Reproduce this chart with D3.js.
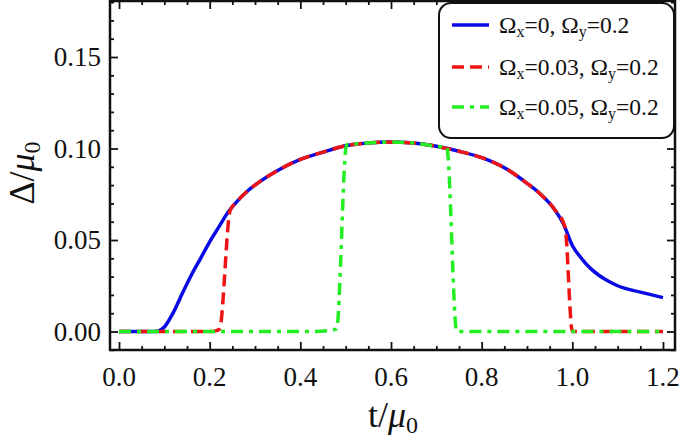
<!DOCTYPE html>
<html>
<head>
<meta charset="utf-8">
<script src="https://cdn.jsdelivr.net/npm/d3@7"></script>
<style>
  body { margin: 0; background: #fff; }
  svg text { font-family: "Liberation Serif", "DejaVu Serif", serif; fill: #111; }
</style>
</head>
<body>
<div id="chart"></div>
<script>
// t/mu0 on x, Delta/mu0 on y.
var blueT = [0, 0.05, 0.08, 0.09, 0.1, 0.12, 0.14, 0.16, 0.18, 0.2, 0.22, 0.24, 0.26, 0.28, 0.3,
             0.35, 0.4, 0.45, 0.5, 0.55, 0.6, 0.65, 0.7, 0.75, 0.8, 0.85, 0.9, 0.93, 0.96, 0.98,
             1.0, 1.02, 1.04, 1.06, 1.08, 1.1, 1.15, 1.2];
var blueV = [0, 0, 0, 0.0006, 0.0025, 0.0105, 0.021, 0.031, 0.040, 0.049, 0.057, 0.065, 0.071, 0.076, 0.080,
             0.088, 0.094, 0.098, 0.1015, 0.103, 0.1035, 0.103, 0.1012, 0.0985, 0.095, 0.0895, 0.081, 0.075, 0.067, 0.059,
             0.047, 0.040, 0.0345, 0.0305, 0.0275, 0.025, 0.0215, 0.0185];

var redT = [0, 0.2, 0.215, 0.222, 0.245, 0.26, 0.28, 0.3, 0.35, 0.4, 0.45, 0.5, 0.55, 0.6, 0.65,
            0.7, 0.75, 0.8, 0.85, 0.9, 0.93, 0.96, 0.984, 1.0, 1.2];
var redV = [0, 0, 0.0005, 0.0015, 0.066, 0.071, 0.076, 0.080, 0.088, 0.094, 0.098, 0.1015, 0.103, 0.1035, 0.103,
            0.1012, 0.0985, 0.095, 0.0895, 0.081, 0.075, 0.067, 0.057, 0, 0];

var greenT = [0, 0.43, 0.47, 0.48, 0.502, 0.55, 0.6, 0.65, 0.7, 0.723, 0.745, 1.2];
var greenV = [0, 0, 0.0008, 0.0015, 0.102, 0.103, 0.1035, 0.103, 0.1012, 0.1006, 0, 0];

var seriesNames = ["blue", "red", "green"];
var legendX = ["0", "0.03", "0.05"];
var legendY = ["0.2", "0.2", "0.2"];

var xTicks = [0, 0.2, 0.4, 0.6, 0.8, 1.0, 1.2];
var yTicks = [0, 0.05, 0.10, 0.15];

var colors = {blue: "#0a0ae6", red: "#ee1414", green: "#22ee22"};
var dashes = {blue: null, red: "12,6", green: "12,6,4,6"};

var W = 685, H = 441;
var pLeft = 110, pRight = 675, pTop = 1, pBottom = 350;

var xScale = d3.scaleLinear().domain([-0.0199, 1.2265]).range([pLeft, pRight]);
var yScale = d3.scaleLinear().domain([-0.0101, 0.1806]).range([pBottom, pTop]);

var svg = d3.select("#chart").append("svg")
    .attr("width", W)
    .attr("height", H);

// curves
var line = d3.line()
    .curve(d3.curveMonotoneX)
    .x(function(d) { return xScale(d[0]); })
    .y(function(d) { return yScale(d[1]); });

function zip(t, v) { return t.map(function(d, i) { return [d, v[i]]; }); }
var series = {blue: zip(blueT, blueV), red: zip(redT, redV), green: zip(greenT, greenV)};

svg.append("g").selectAll("path")
    .data(seriesNames)
    .enter().append("path")
    .attr("d", function(k) { return line(series[k]); })
    .attr("fill", "none")
    .attr("stroke", function(k) { return colors[k]; })
    .attr("stroke-width", 3.5)
    .attr("stroke-dasharray", function(k) { return dashes[k]; })
    .attr("stroke-linejoin", "round");

// frame with inward ticks on all sides
var xMinor = d3.range(0, 1.2001, 0.05);
var yMinor = d3.range(-0.01, 0.1801, 0.01);

function isMajorX(d) { return Math.abs(d / 0.2 - Math.round(d / 0.2)) < 1e-6; }
function isMajorY(d) { return Math.abs(d / 0.05 - Math.round(d / 0.05)) < 1e-6; }

// sign: direction pointing into the plot
function tickStyle(g, major, dir, sign) {
  g.select(".domain").remove();
  g.selectAll(".tick line")
      .attr("stroke", "#111")
      .attr("stroke-width", 1.8)
      .each(function(d) {
        var len = major(d) ? 8 : 4;
        if (dir === "x") d3.select(this).attr("y2", len * sign);
        else d3.select(this).attr("x2", len * sign);
      });
}

svg.append("g").attr("transform", "translate(0," + pBottom + ")")
    .call(d3.axisBottom(xScale).tickValues(xMinor).tickFormat("").tickSizeOuter(0))
    .call(tickStyle, isMajorX, "x", -1);
svg.append("g").attr("transform", "translate(0," + pTop + ")")
    .call(d3.axisTop(xScale).tickValues(xMinor).tickFormat("").tickSizeOuter(0))
    .call(tickStyle, isMajorX, "x", 1);
svg.append("g").attr("transform", "translate(" + pLeft + ",0)")
    .call(d3.axisLeft(yScale).tickValues(yMinor).tickFormat("").tickSizeOuter(0))
    .call(tickStyle, isMajorY, "y", 1);
svg.append("g").attr("transform", "translate(" + pRight + ",0)")
    .call(d3.axisRight(yScale).tickValues(yMinor).tickFormat("").tickSizeOuter(0))
    .call(tickStyle, isMajorY, "y", -1);

svg.append("rect")
    .attr("x", pLeft).attr("y", pTop)
    .attr("width", pRight - pLeft).attr("height", pBottom - pTop)
    .attr("fill", "none").attr("stroke", "#111").attr("stroke-width", 2.5);

// tick labels
svg.append("g").selectAll("text")
    .data(xTicks)
    .enter().append("text")
    .attr("x", function(d) { return xScale(d); })
    .attr("y", 386)
    .attr("text-anchor", "middle")
    .attr("font-size", 27)
    .text(function(d) { return d.toFixed(1); });

svg.append("g").selectAll("text")
    .data(yTicks)
    .enter().append("text")
    .attr("x", 101)
    .attr("y", function(d) { return yScale(d) + 9; })
    .attr("text-anchor", "end")
    .attr("font-size", 27)
    .text(function(d) { return d.toFixed(2); });

// axis titles
var xt = svg.append("text")
    .attr("x", 393).attr("y", 427)
    .attr("text-anchor", "middle")
    .attr("font-size", 36);
xt.append("tspan").text("t/");
xt.append("tspan").attr("font-style", "italic").text("μ");
xt.append("tspan").attr("font-size", 24).attr("dy", 6).text("0");

var yt = svg.append("text")
    .attr("transform", "translate(34,173) rotate(-90)")
    .attr("text-anchor", "middle")
    .attr("font-size", 36);
yt.append("tspan").text("Δ/");
yt.append("tspan").attr("font-style", "italic").text("μ");
yt.append("tspan").attr("font-size", 24).attr("dy", 6).text("0");

// legend
svg.append("rect")
    .attr("x", 439).attr("y", 3)
    .attr("width", 235).attr("height", 135)
    .attr("rx", 12).attr("ry", 12)
    .attr("fill", "#fff").attr("stroke", "#111").attr("stroke-width", 2);

var rowY = [25, 67, 107];
var leg = svg.append("g").selectAll("g")
    .data(seriesNames)
    .enter().append("g")
    .attr("transform", function(d, i) { return "translate(0," + rowY[i] + ")"; });

leg.append("line")
    .attr("x1", 452).attr("x2", 489)
    .attr("y1", 0).attr("y2", 0)
    .attr("stroke", function(k) { return colors[k]; })
    .attr("stroke-width", 3.5)
    .attr("stroke-dasharray", function(k) { return dashes[k]; });

var lt = leg.append("text")
    .attr("x", 499).attr("y", 8)
    .attr("font-size", 23.5);
lt.append("tspan").text("Ω");
lt.append("tspan").attr("font-size", 16).attr("dy", 4).text("x");
lt.append("tspan").attr("dy", -4).text(function(d, i) { return "=" + legendX[i] + ", Ω"; });
lt.append("tspan").attr("font-size", 16).attr("dy", 4).text("y");
lt.append("tspan").attr("dy", -4).text(function(d, i) { return "=" + legendY[i]; });
</script>
</body>
</html>
